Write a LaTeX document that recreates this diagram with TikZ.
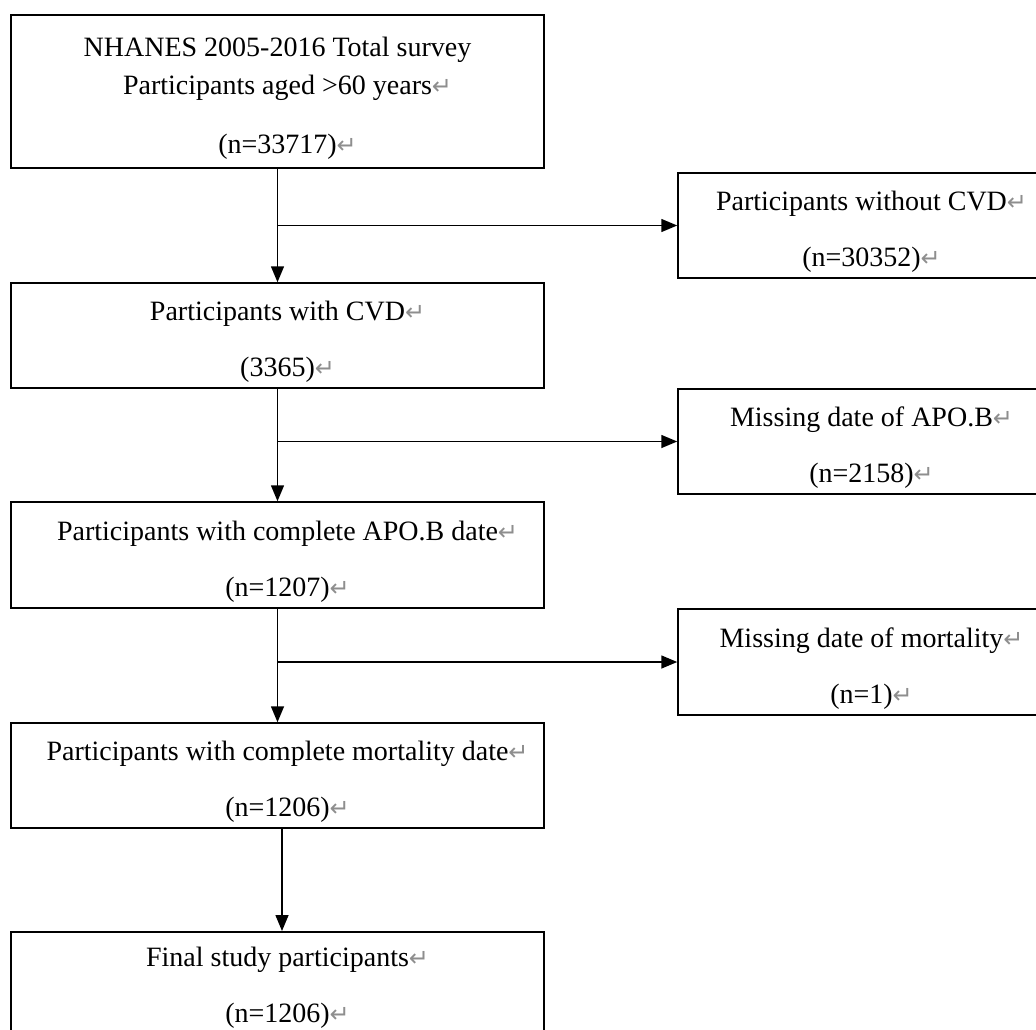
\documentclass[tikz,border=0pt]{standalone}
\usepackage{fontspec}
\setmainfont{Liberation Serif}
\newfontfamily\markfont{DejaVu Sans}
\usetikzlibrary{arrows.meta}
\definecolor{markgray}{HTML}{8E8E8E}
\newcommand{\pmk}{\rlap{\textcolor{markgray}{\markfont\fontsize{24}{24}\selectfont ↵}}}
\newcommand{\topgap}{\rule{0pt}{32pt}}

\begin{document}
\begin{tikzpicture}[x=1pt, y=-1pt,
    mainbox/.style={draw, line width=1.5pt, minimum width=533pt, minimum height=105pt,
        align=center, inner sep=0pt, font=\fontsize{28}{38}\selectfont},
    sidebox/.style={mainbox, minimum width=367pt},
    flow/.style={line width=1.5pt, -{Triangle[length=16pt, width=13pt]}}]

    % Page frame: the right boxes and the last box run past it
    \clip (0,0) rectangle (1036,1030);

    % Main column of boxes
    \node[mainbox, minimum height=153pt] (total) at (277.5,91.5)
        {\topgap NHANES 2005-2016 Total survey\\ Participants aged >60 years\pmk\\[21pt] (n=33717)\pmk};
    \node[mainbox] (cvd) at (277.5,335.5) {\topgap Participants with CVD\pmk\\[18pt] (3365)\pmk};
    \node[mainbox, minimum height=106pt] (apob) at (277.5,555) {\topgap Participants with complete APO.B date\pmk\\[18pt] (n=1207)\pmk};
    \node[mainbox] (mort) at (277.5,775.5) {\topgap Participants with complete mortality date\pmk\\[18pt] (n=1206)\pmk};
    \node[mainbox, minimum height=100pt, anchor=north] (final) at (277.5,931) {\topgap Final study participants\pmk\\[18pt] (n=1206)\pmk};

    % Excluded participants on the right
    \node[sidebox] (nocvd) at (861.5,225.5) {\topgap Participants without CVD\pmk\\[18pt] (n=30352)\pmk};
    \node[sidebox] (noapob) at (861.5,441.5) {\topgap Missing date of APO.B\pmk\\[18pt] (n=2158)\pmk};
    \node[sidebox, minimum height=106pt] (nomort) at (861.5,662) {\topgap Missing date of mortality\pmk\\[18pt] (n=1)\pmk};

    % Downward arrows
    \draw[flow] (total.south) -- (cvd.north);
    \draw[flow] (cvd.south) -- (apob.north);
    \draw[flow] (apob.south) -- (mort.north);
    \draw[flow] ([xshift=4.5pt]mort.south) -- ([xshift=4.5pt]final.north);

    % Side arrows to the exclusions
    \draw[flow] (total.south |- nocvd.west) -- (nocvd.west);
    \draw[flow] (cvd.south |- noapob.west) -- (noapob.west);
    \draw[flow] (apob.south |- nomort.west) -- (nomort.west);

\end{tikzpicture}
\end{document}
